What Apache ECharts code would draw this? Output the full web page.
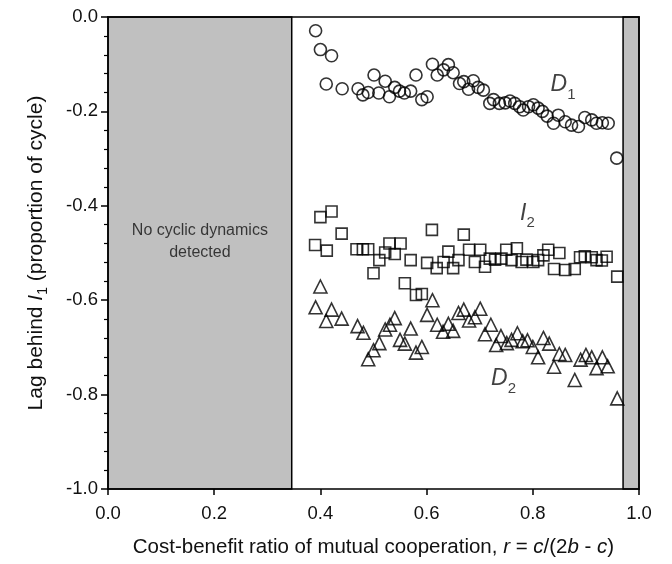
<!DOCTYPE html>
<html><head><meta charset="utf-8">
<script src="https://cdn.jsdelivr.net/npm/echarts@6/dist/echarts.min.js"></script>
<style>html,body{margin:0;padding:0;background:#fff}#c{width:672px;height:564px}</style>
</head><body><div id="c"></div>
<script>
// ---- data ----
const xTickValues = [0.0, 0.2, 0.4, 0.6, 0.8, 1.0];
const yTickValues = [-1.0, -0.8, -0.6, -0.4, -0.2, 0.0];
const noCycleEnd = 0.346;      // no cyclic dynamics detected for r < this
const noCycleStart2 = 0.97;    // and for r > this

const D1 = [[0.391,-0.029],[0.400,-0.069],[0.411,-0.142],[0.421,-0.082],[0.441,-0.152],[0.471,-0.152],[0.480,-0.165],[0.490,-0.160],[0.501,-0.123],[0.510,-0.161],[0.522,-0.136],[0.530,-0.169],[0.540,-0.149],[0.549,-0.157],[0.558,-0.161],[0.570,-0.157],[0.580,-0.123],[0.591,-0.175],[0.601,-0.169],[0.611,-0.100],[0.620,-0.123],[0.632,-0.112],[0.641,-0.101],[0.650,-0.118],[0.662,-0.141],[0.670,-0.137],[0.679,-0.153],[0.688,-0.135],[0.697,-0.149],[0.707,-0.155],[0.719,-0.183],[0.726,-0.175],[0.737,-0.183],[0.748,-0.182],[0.757,-0.178],[0.766,-0.183],[0.775,-0.190],[0.782,-0.197],[0.792,-0.190],[0.801,-0.186],[0.810,-0.193],[0.818,-0.200],[0.827,-0.210],[0.839,-0.225],[0.848,-0.208],[0.861,-0.222],[0.873,-0.229],[0.886,-0.232],[0.898,-0.213],[0.911,-0.218],[0.920,-0.225],[0.931,-0.224],[0.942,-0.225],[0.958,-0.299]];
const I2 = [[0.390,-0.483],[0.400,-0.424],[0.412,-0.495],[0.421,-0.412],[0.440,-0.459],[0.468,-0.492],[0.480,-0.492],[0.490,-0.492],[0.500,-0.543],[0.511,-0.515],[0.522,-0.499],[0.530,-0.480],[0.540,-0.502],[0.551,-0.480],[0.559,-0.564],[0.570,-0.515],[0.580,-0.589],[0.591,-0.587],[0.601,-0.521],[0.610,-0.451],[0.619,-0.532],[0.632,-0.519],[0.641,-0.497],[0.650,-0.532],[0.660,-0.515],[0.670,-0.461],[0.680,-0.493],[0.691,-0.519],[0.701,-0.493],[0.710,-0.529],[0.719,-0.512],[0.729,-0.514],[0.741,-0.512],[0.750,-0.493],[0.760,-0.515],[0.770,-0.490],[0.779,-0.519],[0.788,-0.514],[0.801,-0.519],[0.810,-0.515],[0.820,-0.505],[0.829,-0.493],[0.840,-0.534],[0.850,-0.500],[0.861,-0.536],[0.879,-0.534],[0.889,-0.509],[0.898,-0.507],[0.911,-0.509],[0.920,-0.515],[0.930,-0.516],[0.939,-0.508],[0.959,-0.550]];
const D2 = [[0.391,-0.615],[0.400,-0.571],[0.411,-0.644],[0.421,-0.620],[0.440,-0.639],[0.470,-0.655],[0.481,-0.669],[0.490,-0.725],[0.500,-0.706],[0.511,-0.691],[0.522,-0.662],[0.531,-0.652],[0.540,-0.638],[0.550,-0.684],[0.559,-0.692],[0.570,-0.660],[0.580,-0.711],[0.591,-0.699],[0.601,-0.631],[0.611,-0.600],[0.620,-0.652],[0.631,-0.667],[0.641,-0.650],[0.650,-0.665],[0.660,-0.627],[0.670,-0.620],[0.680,-0.643],[0.691,-0.636],[0.701,-0.618],[0.710,-0.672],[0.721,-0.652],[0.731,-0.695],[0.740,-0.676],[0.751,-0.691],[0.760,-0.684],[0.771,-0.670],[0.781,-0.687],[0.790,-0.685],[0.800,-0.699],[0.810,-0.721],[0.820,-0.680],[0.831,-0.692],[0.840,-0.741],[0.850,-0.714],[0.861,-0.716],[0.879,-0.769],[0.890,-0.726],[0.900,-0.716],[0.911,-0.721],[0.920,-0.744],[0.931,-0.721],[0.941,-0.740],[0.959,-0.808]];

// annotation anchors (data coords)
const labelD1 = [0.857, -0.150];
const labelI2 = [0.790, -0.422];
const labelD2 = [0.745, -0.772];
const labelNoCycle = [0.173, -0.476];

// ---- chart ----
const FONT = '"Liberation Sans", Arial, sans-serif';
const BLACK = '#000';
const TXT = '#111';
const lineStyle = {color: BLACK, width: 1.5};
const fmt = v => v.toFixed(1);

const symLabel = {
  fontFamily: FONT, color: TXT,
  rich: {
    b: {fontFamily: FONT, fontSize: 23, fontStyle: 'italic', color: TXT, verticalAlign: 'bottom', padding: [0,0,6,0]},
    s: {fontFamily: FONT, fontSize: 15, color: TXT, verticalAlign: 'bottom'}
  }
};
function annot(pos, text) {
  return {
    type: 'scatter', symbolSize: 0, silent: true, z: 5,
    data: [pos],
    label: Object.assign({show: true, position: 'inside', formatter: text}, symLabel)
  };
}
const markerStyle = {color: 'rgba(0,0,0,0)', borderColor: BLACK, borderWidth: 1.6};

const option = {
  animation: false,
  backgroundColor: '#fff',
  grid: {left: 108, right: 33, top: 17, bottom: 75},
  xAxis: [{
    type: 'value', min: xTickValues[0], max: xTickValues[xTickValues.length-1], interval: 0.2,
    position: 'bottom', z: 10,
    axisLine: {show: true, onZero: false, lineStyle},
    axisTick: {show: true, length: 6, lineStyle},
    minorTick: {show: false},
    splitLine: {show: false},
    axisLabel: {formatter: fmt, fontSize: 18.5, color: TXT, margin: 15, fontFamily: FONT},
    name: 'Cost-benefit ratio of mutual cooperation, {i|r} = {i|c}/(2{i|b} - {i|c})',
    nameLocation: 'middle', nameGap: 48,
    nameTextStyle: {fontSize: 20.5, color: TXT, fontFamily: FONT,
      rich: {i: {fontSize: 20.5, fontStyle: 'italic', color: TXT, fontFamily: FONT}}}
  }, {
    type: 'value', min: 0, max: 1, position: 'top', z: 10,
    axisLine: {show: true, onZero: false, lineStyle},
    axisTick: {show: false}, axisLabel: {show: false}, splitLine: {show: false}
  }],
  yAxis: [{
    type: 'value', min: yTickValues[0], max: yTickValues[yTickValues.length-1], interval: 0.2,
    position: 'left', z: 10,
    axisLine: {show: true, onZero: false, lineStyle},
    axisTick: {show: true, length: 7, lineStyle},
    minorTick: {show: true, splitNumber: 5, length: 4, lineStyle: {color: BLACK, width: 1.2}},
    splitLine: {show: false},
    axisLabel: {formatter: fmt, fontSize: 18.5, color: TXT, margin: 10, fontFamily: FONT},
    name: '{t|Lag behind }{i|I}{s|1}{t| (proportion of cycle)}',
    nameLocation: 'middle', nameGap: 58, nameRotate: 90,
    nameTextStyle: {fontSize: 21, color: TXT, fontFamily: FONT,
      rich: {
        t: {fontSize: 21, color: TXT, fontFamily: FONT, verticalAlign: 'bottom', padding: [0,0,3,0]},
        i: {fontSize: 21, fontStyle: 'italic', color: TXT, fontFamily: FONT, verticalAlign: 'bottom', padding: [0,0,3,0]},
        s: {fontSize: 14, color: TXT, fontFamily: FONT, verticalAlign: 'bottom'}
      }}
  }, {
    type: 'value', min: -1, max: 0, position: 'right', z: 10,
    axisLine: {show: true, onZero: false, lineStyle},
    axisTick: {show: false}, axisLabel: {show: false}, splitLine: {show: false}
  }],
  series: [{
    name: 'D1', type: 'scatter', symbol: 'circle', symbolSize: 12, z: 3,
    itemStyle: markerStyle, data: D1,
    markArea: {
      silent: true, z: 1,
      itemStyle: {color: '#c0c0c0', borderColor: BLACK, borderWidth: 1.5},
      label: {show: false},
      data: [[{xAxis: 0}, {xAxis: noCycleEnd}], [{xAxis: noCycleStart2}, {xAxis: 1}]]
    }
  }, {
    name: 'I2', type: 'scatter', symbol: 'rect', symbolSize: 11, z: 3,
    itemStyle: markerStyle, data: I2
  }, {
    name: 'D2', type: 'scatter', symbol: 'triangle', symbolSize: 13, z: 3,
    itemStyle: markerStyle, data: D2
  },
  annot(labelD1, '{b|D}{s|1}'),
  annot(labelI2, '{b|I}{s|2}'),
  annot(labelD2, '{b|D}{s|2}'),
  {
    type: 'scatter', symbolSize: 0, silent: true, z: 5, data: [labelNoCycle],
    label: {show: true, position: 'inside', formatter: 'No cyclic dynamics\ndetected',
      fontFamily: FONT, fontSize: 16, color: TXT, lineHeight: 22, align: 'center'}
  }]
};
const chart = echarts.init(document.getElementById('c'), null, {renderer: 'canvas'});
chart.setOption(option);
</script></body></html>
